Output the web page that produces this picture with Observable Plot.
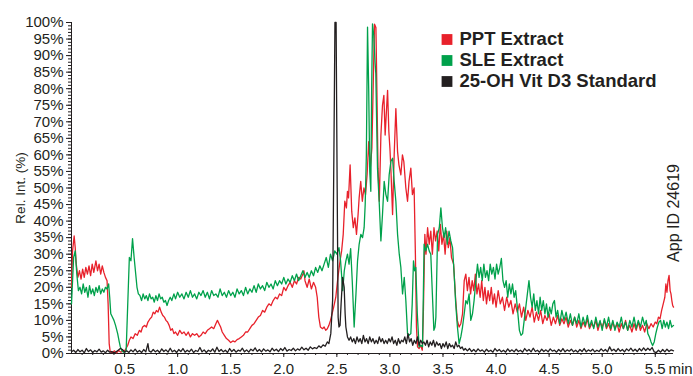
<!DOCTYPE html>
<html><head><meta charset="utf-8">
<script src="https://cdn.jsdelivr.net/npm/d3@7"></script>
<script src="https://cdn.jsdelivr.net/npm/@observablehq/plot@0.6"></script>
<style>body{margin:0;background:#fff}</style>
</head><body><div id="chart"></div>
<script>
const seriesNames = ["PPT Extract", "SLE Extract", "25-OH Vit D3 Standard"];
const seriesColors = ["#e8212b", "#00a14b", "#231f20"];
const yMajorTicks = [0,5,10,15,20,25,30,35,40,45,50,55,60,65,70,75,80,85,90,95,100];
const xMajorTicks = [0.5,1.0,1.5,2.0,2.5,3.0,3.5,4.0,4.5,5.0,5.5];
const xUnit = "min";
const appId = "App ID 24619";
const yTitle = "Rel. Int. (%)";

// [time (min), relative intensity (%)]
const pptData = [[0,20],[0.01,31],[0.025,35.5],[0.035,32],[0.045,27],[0.06,23],[0.075,25],[0.09,22.5],[0.105,25.5],[0.12,23],[0.135,26],[0.15,24],[0.165,26.5],[0.18,23.5],[0.195,27],[0.21,24.5],[0.23,28],[0.245,25],[0.26,27],[0.275,24],[0.29,26.5],[0.305,24.5],[0.32,23],[0.335,22],[0.345,15],[0.355,3],[0.365,0.5],[0.385,0.3],[0.405,0.8],[0.425,0.2],[0.445,0.9],[0.465,0.4],[0.485,0.7],[0.505,1],[0.53,2.5],[0.545,4],[0.56,5],[0.58,4.5],[0.6,6],[0.62,5.5],[0.64,7],[0.655,6.5],[0.67,8],[0.69,8.5],[0.705,8],[0.72,9.5],[0.74,10.5],[0.755,11],[0.77,12.5],[0.785,12],[0.8,13],[0.815,12.5],[0.83,14],[0.845,12.5],[0.86,11.5],[0.875,11],[0.89,10],[0.905,9.5],[0.92,8.5],[0.935,7],[0.95,7.5],[0.965,6],[0.98,6.5],[1.0,5.5],[1.02,7],[1.04,6],[1.06,6.5],[1.08,5.5],[1.1,6.5],[1.12,5],[1.14,6],[1.16,5.5],[1.18,6],[1.2,5],[1.22,5.5],[1.24,6.5],[1.26,6],[1.28,7],[1.3,7.5],[1.32,8],[1.34,7.5],[1.36,9],[1.375,10],[1.39,9],[1.405,8],[1.42,6.5],[1.44,5.5],[1.46,4.5],[1.48,4],[1.5,3.3],[1.52,3.8],[1.54,3.5],[1.56,4.2],[1.58,4.5],[1.6,5],[1.62,5.5],[1.64,6.5],[1.66,6.5],[1.68,7.5],[1.7,8.5],[1.72,9],[1.74,10],[1.76,11],[1.78,11.5],[1.8,13],[1.82,12.5],[1.84,14],[1.86,15],[1.88,14.5],[1.9,16],[1.92,17],[1.94,16.5],[1.96,18],[1.98,17.5],[2.0,20],[2.02,19],[2.04,20.5],[2.06,21.5],[2.08,20],[2.1,22],[2.12,21],[2.14,23],[2.16,22.5],[2.18,24],[2.19,25],[2.2,22],[2.22,20],[2.24,22.5],[2.26,19.5],[2.28,21.5],[2.3,20],[2.315,17],[2.33,11],[2.345,8],[2.365,7.5],[2.38,8],[2.395,7],[2.41,7.5],[2.425,8.5],[2.44,10],[2.455,12],[2.47,14],[2.49,17],[2.51,23],[2.53,28],[2.545,31],[2.56,36],[2.575,46],[2.59,44],[2.6,49],[2.61,47],[2.625,57],[2.64,43],[2.655,38],[2.67,41],[2.685,36],[2.7,42],[2.71,47],[2.725,52],[2.74,46],[2.755,50],[2.77,48],[2.785,54],[2.8,64],[2.815,56],[2.83,62],[2.845,85],[2.855,99.5],[2.868,98.5],[2.878,78],[2.888,56],[2.9,46],[2.915,66],[2.93,75],[2.943,78],[2.955,66],[2.965,72],[2.978,79.5],[2.99,67],[3.0,62],[3.01,55],[3.025,42],[3.04,60],[3.056,74],[3.072,61],[3.085,57],[3.103,54],[3.118,60],[3.131,58],[3.15,50],[3.166,46],[3.18,52],[3.197,56],[3.212,48],[3.228,50],[3.24,30],[3.25,8],[3.26,2],[3.275,1.5],[3.29,2.5],[3.305,1],[3.315,12],[3.329,36],[3.34,30],[3.355,38],[3.37,33],[3.385,37],[3.4,30],[3.415,38],[3.43,34],[3.445,37],[3.46,31],[3.475,39],[3.49,33],[3.505,36],[3.52,30],[3.535,37],[3.55,32],[3.565,35],[3.58,29],[3.6,27],[3.62,16],[3.635,10],[3.652,8],[3.668,9],[3.684,12],[3.7,22],[3.715,24],[3.73,19],[3.745,23],[3.76,18],[3.775,22],[3.79,19],[3.805,24],[3.82,18],[3.835,21],[3.85,17],[3.865,22],[3.88,16],[3.895,20],[3.91,15],[3.925,19],[3.94,16],[3.955,20],[3.97,15],[3.985,18],[4.0,14],[4.02,19],[4.04,15],[4.06,17],[4.08,13],[4.1,17],[4.12,14],[4.14,16],[4.16,12],[4.18,15],[4.2,12.5],[4.22,15],[4.24,11],[4.26,14],[4.28,10],[4.3,13],[4.32,11],[4.34,14],[4.36,9.5],[4.38,12.5],[4.4,10],[4.42,13],[4.44,9],[4.46,11.5],[4.48,10],[4.5,12],[4.52,8.5],[4.54,11],[4.56,9],[4.58,11.5],[4.6,8.5],[4.62,10.5],[4.64,9],[4.66,11],[4.68,8],[4.7,10],[4.72,8.5],[4.74,11],[4.76,8],[4.78,10],[4.8,7.5],[4.82,9.5],[4.84,8],[4.86,10.5],[4.88,7.5],[4.9,9],[4.92,8],[4.94,10],[4.96,7],[4.98,9.5],[5.0,8],[5.02,10],[5.04,7.5],[5.06,9],[5.08,7],[5.1,9.5],[5.12,7.5],[5.14,9],[5.16,6.5],[5.18,9],[5.2,7.5],[5.22,10],[5.24,7],[5.26,8.5],[5.28,6.5],[5.3,9],[5.32,7],[5.34,9.5],[5.36,7],[5.38,8.5],[5.4,6.5],[5.42,9],[5.44,7.5],[5.46,9],[5.48,8],[5.5,9.5],[5.515,9],[5.53,11],[5.545,10.5],[5.56,13],[5.575,15],[5.59,17],[5.6,21],[5.61,18.5],[5.62,22],[5.63,23.6],[5.64,19],[5.648,18],[5.656,16],[5.664,14.5],[5.672,14]];

const sleData = [[0,15],[0.01,22],[0.02,29],[0.035,31],[0.05,24],[0.065,19],[0.08,20],[0.095,18],[0.11,21],[0.125,18.5],[0.14,20],[0.155,17],[0.17,20.5],[0.185,18],[0.2,19.5],[0.215,17.5],[0.23,20],[0.245,18.5],[0.26,20.5],[0.275,18],[0.29,19.5],[0.305,18.5],[0.32,20],[0.335,19.5],[0.35,21],[0.36,17],[0.37,12],[0.385,11],[0.4,10],[0.415,8.5],[0.435,6],[0.45,3.5],[0.46,2],[0.475,0.8],[0.49,0.4],[0.505,0.5],[0.515,1],[0.53,15],[0.545,29],[0.56,28],[0.575,34.7],[0.59,29],[0.605,24],[0.617,20],[0.63,18],[0.645,17.5],[0.66,16],[0.675,18],[0.69,16.5],[0.705,17.5],[0.72,16],[0.735,18],[0.75,16.5],[0.765,17],[0.78,15.5],[0.795,17.5],[0.81,16],[0.825,18],[0.84,16.5],[0.855,17],[0.87,15.5],[0.885,16],[0.9,14.5],[0.915,16],[0.93,17],[0.945,16],[0.965,18],[0.98,16.5],[1.0,18.5],[1.02,17],[1.04,18],[1.06,16.5],[1.08,18.5],[1.1,17],[1.12,19],[1.14,17],[1.16,18],[1.18,16.5],[1.2,18.5],[1.22,17.5],[1.24,19],[1.26,17],[1.28,18.5],[1.3,16.5],[1.32,19],[1.34,17.5],[1.36,18],[1.38,17],[1.4,19.5],[1.42,17.5],[1.44,18.5],[1.46,17],[1.48,19],[1.5,17.5],[1.52,18.5],[1.54,17],[1.56,19.5],[1.58,18],[1.6,19],[1.62,17.5],[1.64,20],[1.66,18],[1.68,19.5],[1.7,18.5],[1.72,20.5],[1.74,18.5],[1.76,21],[1.78,19.5],[1.8,20.5],[1.82,19],[1.84,21.5],[1.86,20],[1.88,21],[1.9,19.5],[1.92,22],[1.94,20.5],[1.96,22],[1.98,21],[2.0,23],[2.02,21],[2.04,22.5],[2.06,21.5],[2.08,23.5],[2.1,22],[2.12,24],[2.14,22],[2.16,23.5],[2.18,25],[2.2,23],[2.22,24.5],[2.24,23],[2.26,25],[2.28,23.5],[2.3,26],[2.32,24.5],[2.34,26.5],[2.36,25],[2.38,27],[2.4,29],[2.42,26],[2.44,30],[2.46,28],[2.48,31],[2.5,30],[2.52,32],[2.535,28],[2.555,19],[2.57,25],[2.585,28],[2.6,30],[2.615,27],[2.63,31.7],[2.645,22],[2.663,8],[2.68,18],[2.695,28],[2.71,33],[2.726,36],[2.742,35],[2.757,38],[2.767,45],[2.778,60],[2.789,98.6],[2.8,80],[2.81,55],[2.82,49],[2.828,80],[2.836,99.6],[2.848,96],[2.86,88],[2.867,84.6],[2.875,70],[2.883,56],[2.9,45],[2.915,34],[2.93,42],[2.946,52],[2.962,48],[2.978,46],[2.993,54],[3.009,58],[3.025,59],[3.04,52],[3.056,46],[3.072,36],[3.088,30],[3.103,26],[3.119,18],[3.135,23],[3.15,16],[3.166,6],[3.18,5.5],[3.197,6],[3.21,15],[3.222,28],[3.233,25],[3.244,26],[3.258,12],[3.275,2],[3.29,2.5],[3.307,2],[3.315,18],[3.322,33],[3.338,31],[3.354,33],[3.37,31],[3.385,30],[3.4,18],[3.414,7],[3.425,8],[3.433,11],[3.449,36],[3.465,38],[3.48,44],[3.495,38],[3.511,35],[3.525,38],[3.54,33],[3.557,37],[3.574,34],[3.59,32],[3.605,24],[3.62,15],[3.636,8],[3.652,3],[3.668,5],[3.684,8],[3.7,12],[3.715,16],[3.73,15],[3.746,18],[3.762,10],[3.778,12],[3.793,16],[3.81,22],[3.825,27],[3.84,23],[3.855,26],[3.87,22],[3.885,27],[3.9,23],[3.915,25],[3.93,22],[3.945,27],[3.96,24],[3.975,26],[3.99,22.5],[4.005,27],[4.02,24],[4.035,26],[4.05,28.7],[4.065,22],[4.08,20],[4.095,22],[4.11,17],[4.125,21],[4.14,18],[4.155,21],[4.17,17],[4.185,19],[4.2,14],[4.22,7],[4.235,5.5],[4.25,6],[4.265,10],[4.28,14],[4.295,18],[4.31,22],[4.325,17],[4.34,14],[4.355,18],[4.37,13],[4.385,16],[4.4,12],[4.415,17],[4.43,13],[4.445,16],[4.46,12],[4.475,15],[4.49,11],[4.505,14],[4.52,12],[4.535,15],[4.55,16],[4.565,11],[4.58,13],[4.6,9],[4.62,13],[4.64,10],[4.66,12.5],[4.68,9],[4.7,12],[4.72,8.5],[4.74,11],[4.76,9],[4.78,12],[4.8,8],[4.82,11],[4.84,8.5],[4.86,11.5],[4.88,8],[4.9,10],[4.92,7.5],[4.94,11],[4.96,8],[4.98,10],[5.0,7],[5.02,10.5],[5.04,8],[5.06,11],[5.08,7.5],[5.1,10],[5.12,7],[5.14,9.5],[5.16,8],[5.18,11],[5.2,7.5],[5.22,9.5],[5.24,7],[5.26,10],[5.28,8],[5.3,11],[5.32,7.5],[5.34,10],[5.36,8],[5.38,11],[5.4,8.5],[5.415,10],[5.43,6],[5.445,5],[5.46,3.5],[5.475,2.4],[5.49,3.5],[5.505,6],[5.52,8],[5.535,9.5],[5.55,10],[5.565,7.5],[5.58,10],[5.595,8],[5.61,9.5],[5.625,7.5],[5.64,10],[5.655,8],[5.672,8.5]];

const stdData = [[0,0.5],[0.02,1],[0.04,0.3],[0.06,1.2],[0.08,0.5],[0.1,1],[0.12,0.2],[0.14,1.5],[0.16,0.6],[0.18,1.1],[0.2,0.3],[0.22,0.9],[0.24,0.5],[0.26,1.3],[0.28,0.4],[0.3,0.8],[0.32,0.2],[0.34,1],[0.36,0.4],[0.38,0.6],[0.4,0.2],[0.42,0.5],[0.44,1],[0.46,1.5],[0.48,1.2],[0.5,0.4],[0.52,0.8],[0.54,0.3],[0.56,1.1],[0.58,0.5],[0.6,1.3],[0.62,0.4],[0.64,0.9],[0.66,0.3],[0.68,1.2],[0.7,0.5],[0.72,3],[0.73,0.8],[0.75,0.4],[0.77,1.2],[0.79,0.5],[0.81,1],[0.83,0.3],[0.85,1.4],[0.87,0.6],[0.89,1.1],[0.91,0.4],[0.93,1.6],[0.95,0.5],[0.97,1],[0.99,0.3],[1.01,1.2],[1.03,0.6],[1.05,1.5],[1.07,0.4],[1.09,1],[1.11,0.5],[1.13,1.3],[1.15,0.3],[1.17,0.9],[1.19,0.6],[1.21,1.8],[1.23,0.5],[1.25,1.1],[1.27,0.3],[1.29,1],[1.31,0.6],[1.33,1.4],[1.35,0.4],[1.37,1.9],[1.39,0.6],[1.41,1.2],[1.43,0.5],[1.45,1],[1.47,0.3],[1.49,1.5],[1.51,0.6],[1.53,1.2],[1.55,0.4],[1.57,1],[1.59,0.7],[1.61,1.6],[1.63,0.5],[1.65,1.1],[1.67,0.4],[1.69,1.3],[1.71,0.8],[1.73,1.7],[1.75,0.6],[1.77,1.2],[1.79,0.5],[1.81,1.4],[1.83,0.7],[1.85,1.1],[1.87,0.5],[1.89,1.6],[1.91,0.8],[1.93,1.3],[1.95,0.6],[1.97,1.5],[1.99,0.9],[2.01,1.8],[2.03,0.7],[2.05,1.2],[2.07,0.9],[2.09,1.6],[2.11,0.8],[2.13,1.4],[2.15,1],[2.17,1.9],[2.19,1.1],[2.21,1.6],[2.23,1],[2.25,2],[2.27,1.4],[2.29,1.8],[2.31,1.5],[2.33,2.3],[2.35,1.8],[2.37,2.6],[2.39,2.2],[2.41,3.5],[2.425,3],[2.443,6],[2.46,16],[2.472,60],[2.482,100],[2.493,100],[2.503,50],[2.512,11],[2.52,8],[2.53,8.5],[2.54,15],[2.554,23],[2.569,20],[2.578,12],[2.585,8],[2.6,5],[2.615,4],[2.63,5],[2.645,3.5],[2.66,4.5],[2.675,3],[2.69,5],[2.705,3.5],[2.72,4.5],[2.735,3],[2.75,5.5],[2.765,3.5],[2.78,4.5],[2.795,3],[2.81,5],[2.825,3.5],[2.84,4.5],[2.855,3],[2.87,4],[2.885,3],[2.9,5],[2.915,3.5],[2.93,4.5],[2.945,3],[2.96,4],[2.975,3],[2.99,4.5],[3.005,3.5],[3.02,5],[3.035,3],[3.05,4],[3.065,2.5],[3.08,4.5],[3.095,3],[3.11,4],[3.125,3.5],[3.14,5],[3.155,3],[3.17,6],[3.185,3.5],[3.2,4.5],[3.215,2.5],[3.23,4],[3.245,3],[3.26,5],[3.275,2.5],[3.29,4],[3.305,3],[3.32,3.5],[3.335,2.5],[3.35,4],[3.365,2],[3.38,3.5],[3.395,2.5],[3.41,4],[3.425,2],[3.44,3.5],[3.455,2.5],[3.47,3],[3.485,1.5],[3.5,3],[3.515,2],[3.53,3.5],[3.545,1.5],[3.56,3],[3.575,2],[3.59,2.5],[3.605,1.5],[3.62,3.5],[3.635,2],[3.65,2.5],[3.665,1.5],[3.68,2],[3.695,1],[3.71,1.5],[3.73,0.8],[3.75,1.5],[3.77,0.6],[3.79,1.2],[3.81,0.5],[3.83,1.4],[3.85,0.7],[3.87,1.1],[3.89,0.4],[3.91,1.3],[3.93,0.6],[3.95,1],[3.97,0.4],[3.99,1.5],[4.01,0.7],[4.03,1.2],[4.05,0.5],[4.07,1],[4.09,0.4],[4.11,1.4],[4.13,0.6],[4.15,1.1],[4.17,0.5],[4.19,1.3],[4.21,0.6],[4.23,1],[4.25,0.4],[4.27,1.5],[4.29,0.7],[4.31,1.2],[4.33,0.5],[4.35,1.6],[4.37,0.6],[4.39,1],[4.41,0.4],[4.43,1.3],[4.45,0.6],[4.47,1.1],[4.49,0.5],[4.51,1.4],[4.53,0.7],[4.55,1],[4.57,0.4],[4.59,1.2],[4.61,0.6],[4.63,1.5],[4.65,0.5],[4.67,1.1],[4.69,0.7],[4.71,1.3],[4.73,0.5],[4.75,1],[4.77,0.4],[4.79,1.2],[4.81,0.6],[4.83,1.5],[4.85,0.5],[4.87,1.1],[4.89,0.7],[4.91,1.3],[4.93,0.5],[4.95,1],[4.97,0.6],[4.99,1.4],[5.01,0.7],[5.03,1.2],[5.05,0.5],[5.07,2],[5.09,0.8],[5.11,1.3],[5.13,0.6],[5.15,1.5],[5.17,0.7],[5.19,1.2],[5.21,0.5],[5.23,1.4],[5.25,0.8],[5.27,1.6],[5.29,0.7],[5.31,1.3],[5.33,0.6],[5.35,1.5],[5.37,0.8],[5.39,1.7],[5.41,0.9],[5.43,1.6],[5.45,1],[5.47,1.8],[5.49,0.5],[5.51,0.3],[5.53,1],[5.55,0.4],[5.57,1.2],[5.59,0.5],[5.61,1.3],[5.63,0.6],[5.65,1.1],[5.672,0.8]];

const allSeries = [pptData, sleData, stdData];
const rows = allSeries.flatMap((pairs, i) => pairs.map(([t, v]) => ({t, v, name: seriesNames[i]})));
const lastT = d3.max(rows, d => d.t);
const yMinorTicks = d3.range(0, 101, 1);
const xMinorTicks = d3.range(1, 57).map(i => i / 10);

const font = "'Liberation Sans', Arial, Helvetica, sans-serif";
const legendMarks = seriesNames.flatMap((name, i) => [
  Plot.dot([name], {frameAnchor: "top-left", dx: 375.5, dy: 17 + i * 21, symbol: "square", r: 6.1, fill: seriesColors[i], stroke: null}),
  Plot.text([name], {frameAnchor: "top-left", dx: 388, dy: 17 + i * 21, text: d => d, textAnchor: "start", lineAnchor: "middle", fontSize: 18.5, fontWeight: "bold", fill: "#231f20"})
]);

const chart = Plot.plot({
  width: 693, height: 376,
  marginLeft: 71, marginRight: 17, marginTop: 22, marginBottom: 23,
  style: {fontFamily: font, fontSize: "15px", color: "#231f20", background: "#fff"},
  x: {domain: [0, 5.7]},
  y: {domain: [0, 100]},
  color: {domain: seriesNames, range: seriesColors},
  marks: [
    Plot.axisY({ticks: yMinorTicks, tickSize: 3, tickFormat: () => "", label: null}),
    Plot.axisY({ticks: yMajorTicks, tickSize: 5, tickPadding: 3, tickFormat: d => d + "%", label: null, fontSize: 15}),
    Plot.axisX({ticks: xMinorTicks, tickSize: 2, tickFormat: () => "", label: null}),
    Plot.axisX({ticks: xMajorTicks, tickSize: 4, tickPadding: 6, tickFormat: d => d.toFixed(1), label: null, fontSize: 15}),
    Plot.ruleX([0], {stroke: "#231f20"}),
    Plot.ruleY([0], {x1: 0, x2: lastT, stroke: "#231f20"}),
    Plot.line(rows, {x: "t", y: "v", z: "name", stroke: "name", strokeWidth: 1.3}),
    Plot.text([yTitle], {frameAnchor: "left", dx: -51, rotate: -90, textAnchor: "middle", lineAnchor: "middle", fontSize: 13.5, text: d => d, fill: "#231f20"}),
    Plot.text([xUnit], {frameAnchor: "bottom-right", dx: -8, dy: 10, textAnchor: "start", lineAnchor: "top", fontSize: 15, text: d => d, fill: "#231f20"}),
    Plot.text([appId], {frameAnchor: "right", dx: -3, dy: 25, rotate: -90, textAnchor: "middle", lineAnchor: "middle", fontSize: 16, text: d => d, fill: "#231f20"}),
    ...legendMarks
  ]
});
document.getElementById("chart").appendChild(chart);
</script>
</body></html>
